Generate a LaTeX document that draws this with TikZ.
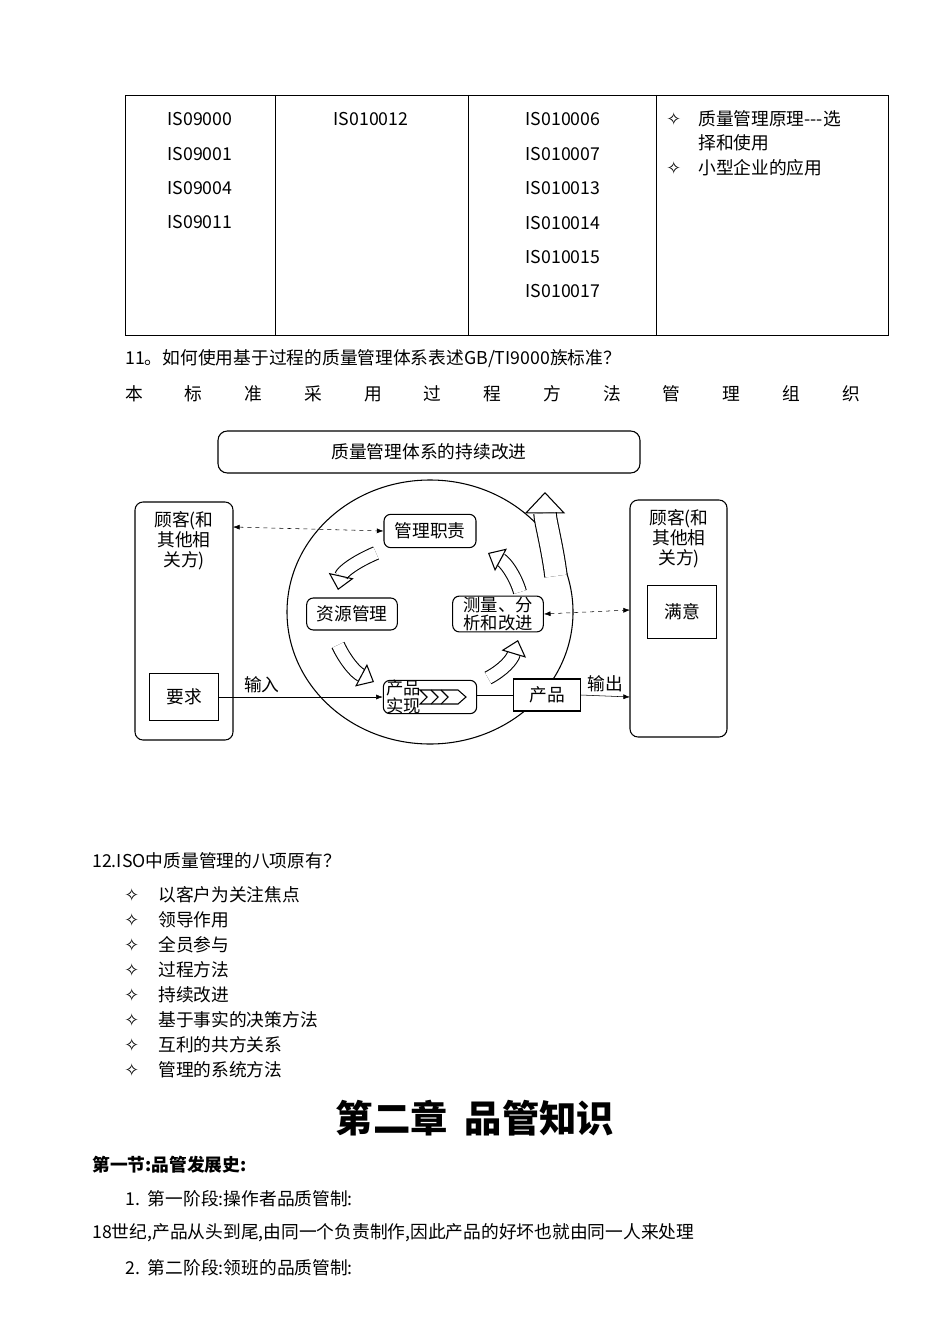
\documentclass[tikz,border=0pt]{standalone}
\usepackage{fontspec}
\setmainfont{Noto Sans CJK SC}
\newfontfamily\symf{DejaVu Sans}
\usetikzlibrary{arrows.meta}
\begin{document}
\begin{tikzpicture}[x=0.75pt,y=-0.75pt,
  txt/.style={inner sep=0,anchor=west,font=\fontsize{13.3}{15}\selectfont},
  ctxt/.style={inner sep=0,font=\fontsize{13.3}{15}\selectfont},
  rbox/.style={draw,thick,rounded corners=5pt,fill=white,inner sep=1pt,font=\fontsize{13.3}{14}\selectfont,align=center},
  sbox/.style={draw,thick,fill=white,font=\fontsize{13.3}{14}\selectfont},
  hollow/.style={double=white,double distance=9pt,line width=0.8pt,-{Triangle[open,length=11pt,width=19pt,line width=0.8pt]}},
  dash2/.style={dashed,{Latex[length=5pt]}-{Latex[length=5pt]}}]
\useasboundingbox (0,0) rectangle (950,1344);
% table
\draw (125,95) rectangle (888,335);
\foreach \x in {275,468,656} \draw (\x,95) -- (\x,335);
\foreach \t [count=\i] in {IS09000,IS09001,IS09004,IS09011}
  \node[ctxt] (a\i) at (200,85+34.3*\i) {\t};
\node[ctxt] (b1) at (371,119) {IS010012};
\foreach \t [count=\i] in {IS010006,IS010007,IS010013,IS010014,IS010015,IS010017}
  \node[ctxt] (c\i) at (563,85+34.4*\i) {\t};
\node[txt] (d0) at (666,119) {\symf ✧};
\node[txt] (d1) at (698,119) {质量管理原理{-}{-}{-}选};
\node[txt] (d2) at (698,143) {择和使用};
\node[txt] (d3) at (666,168) {\symf ✧};
\node[txt] (d4) at (698,168) {小型企业的应用};
\node[txt] (q11) at (125,359) {11。如何使用基于过程的质量管理体系表述GB/TI9000族标准？};
\foreach \t [count=\i] in {本,标,准,采,用,过,程,方,法,管,理,组,织}
  \node[ctxt] (s\i) at (134+59.75*\i-59.75,394) {\t};
% diagram
\node[rbox,minimum width=422pt*0.75,minimum height=42pt*0.75,rounded corners=7pt] (top) at (429,452) {质量管理体系的持续改进};
\draw[thick,rounded corners=6pt] (135,502) rectangle (233,740);
\draw[thick,rounded corners=6pt] (630,500) rectangle (727,737);
\node[ctxt,align=center] (lc) at (184,541) {顾客(和\\其他相\\关方)};
\node[ctxt,align=center] (rc) at (679,539) {顾客(和\\其他相\\关方)};
\coordinate (lb) at (233,527);
\coordinate (rb) at (630,610);
\coordinate (ro) at (630,697);
\draw[thick] (430,612) ellipse (143 and 132);
\draw[double=white,double distance=16pt,line width=0.8pt,-{Triangle[open,length=16pt,width=30pt,line width=0.8pt]}] (556,576) .. controls (552,545) and (545,520) .. (545,492);
\node[rbox,minimum width=69pt,minimum height=25pt] (m) at (430,531) {管理职责};
\node[rbox,minimum width=68pt,minimum height=24pt] (r) at (352,614) {资源管理};
\node[rbox,minimum width=68pt,minimum height=26pt,font=\fontsize{13}{13}\selectfont] (ms) at (498,614) {测量、分\\析和改进};
\node[rbox,minimum width=70pt,minimum height=25pt] (p) at (430,697) {};
\node[inner sep=0,align=left,anchor=west,font=\fontsize{13}{13}\selectfont] (pt) at (386,697) {产品\\实现};
\draw[thick,fill=white] (420,690) -- (458,690) -- (466,697) -- (458,704) -- (420,704) -- (427,697) -- cycle;
\draw[thick] (431,690) -- (438,697) -- (431,704) (441,690) -- (448,697) -- (441,704);
\node[sbox,minimum width=50pt,minimum height=24pt] (pr) at (547,695) {产品};
\node[sbox,minimum width=52pt,minimum height=35pt] (req) at (184,697) {要求};
\node[sbox,minimum width=52pt,minimum height=40pt] (sat) at (682,612) {满意};
\draw[hollow] (376,553) .. controls (355,562) and (342,572) .. (338,590);
\draw[hollow] (338,645) .. controls (345,660) and (355,672) .. (374,682);
\draw[hollow] (488,678) .. controls (503,670) and (512,660) .. (518,640);
\draw[hollow] (520,592) .. controls (515,575) and (505,562) .. (488,553);
\draw[dash2] (lb) -- (m.west);
\draw[dash2] (ms.east) -- (rb);
\draw[-{Latex[length=5pt]}] (req.east) -- node[above,pos=0.26,ctxt,yshift=3pt]{输入} (p.west |- req.east);
\draw (p.east |- pr.west) -- (pr.west);
\draw[-{Latex[length=5pt]}] (pr.east) -- node[above,pos=0.5,ctxt,yshift=3pt]{输出} (ro);
% lower text
\node[txt] (q12) at (92,861) {12.ISO中质量管理的八项原有？};
\foreach \t [count=\i] in {以客户为关注焦点,领导作用,全员参与,过程方法,持续改进,基于事实的决策方法,互利的共方关系,管理的系统方法}{
  \node[txt] (k\i) at (124,870+25*\i) {\symf ✧};
  \node[txt] (l\i) at (158,870+25*\i) {\t};}
\node[inner sep=0,font=\fontsize{28}{30}\selectfont\bfseries] (h) at (475,1118) {第二章\ \ 品管知识};
\node[txt,font=\fontsize{13.3}{15}\selectfont\bfseries] (h1) at (92,1165) {第一节:品管发展史:};
\node[txt] (t1) at (125,1199) {1.\ \ 第一阶段:操作者品质管制:};
\node[txt] (t2) at (92,1233) {18世纪,产品从头到尾,由同一个负责制作,因此产品的好坏也就由同一人来处理};
\node[txt] (t3) at (125,1268) {2.\ \ 第二阶段:领班的品质管制:};
\end{tikzpicture}
\end{document}
